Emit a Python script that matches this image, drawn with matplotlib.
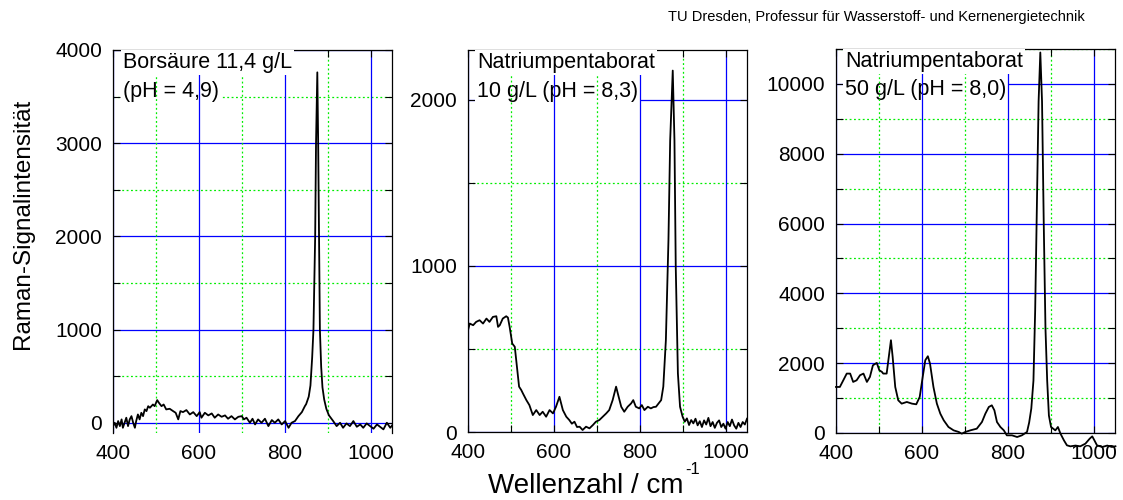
import matplotlib
matplotlib.use("Agg")
import matplotlib.pyplot as plt
from matplotlib.ticker import MultipleLocator

plt.rcParams['font.family'] = ['Liberation Sans', 'DejaVu Sans']

# ---------------- data ----------------
# Panel 1: Borsäure 11,4 g/L
wn1 = [400, 404, 408, 412, 416, 420, 423, 427, 431, 435, 439, 443, 447, 451, 454, 458,
       462, 466, 470, 474, 478, 482, 486, 493, 497, 503, 507, 513, 518, 524, 532, 540,
       546, 552, 557, 563, 571, 579, 587, 595, 602, 606, 614, 622, 630, 637, 645, 653,
       661, 668, 676, 684, 692, 700, 705, 711, 719, 725, 731, 738, 746, 754, 762, 770,
       777, 785, 793, 801, 809, 816, 824, 832, 840, 847, 850, 856, 860, 864, 867, 871,
       873, 876, 878, 880, 882, 885, 888, 892, 897, 903, 913, 921, 929, 936, 944, 952,
       960, 968, 976, 983, 991, 999, 1007, 1015, 1022, 1030, 1038, 1046, 1050]
int1 = [-36, 0, -54, 18, -36, 36, -54, 0, 54, -36, 36, 71, 0, -54, 18, 89,
        36, 107, 71, 143, 125, 178, 161, 196, 178, 243, 214, 178, 196, 143, 150, 125,
        107, 36, 125, 114, 136, 89, 114, 71, 114, 54, 107, 79, 100, 54, 89, 64,
        79, 43, 71, 36, 64, 71, 36, 54, 0, 43, -18, 36, 0, 43, -36, 29,
        0, 36, -18, 18, -54, 0, 18, 71, 114, 178, 200, 280, 400, 700, 1000, 2000,
        3000, 3760, 3000, 2000, 1000, 600, 380, 250, 150, 80, 18, -36, 0, -54, -7, -36,
        18, -43, -18, -54, -7, -36, -64, -18, -43, -71, 0, -54, -30]

# Panel 2: Natriumpentaborat 10 g/L
wn2 = [400, 404, 412, 419, 427, 435, 443, 450, 458, 466, 470, 474, 481, 489, 493, 497,
       503, 509, 514, 519, 524, 528, 536, 543, 551, 559, 567, 574, 582, 590, 598, 605,
       613, 621, 629, 636, 642, 648, 654, 660, 667, 675, 683, 691, 698, 706, 714, 722,
       729, 737, 745, 751, 757, 764, 772, 780, 785, 791, 799, 805, 811, 819, 826, 832,
       838, 850, 855, 861, 867, 871, 877, 881, 884, 889, 894, 900, 905, 910, 915, 920,
       925, 930, 935, 940, 945, 950, 955, 960, 965, 970, 975, 980, 985, 990, 995, 1000,
       1005, 1010, 1015, 1020, 1025, 1030, 1035, 1040, 1045, 1050]
int2 = [613, 653, 643, 663, 673, 653, 683, 663, 693, 697, 633, 643, 683, 697, 689, 633,
        533, 513, 393, 273, 253, 232, 192, 162, 102, 132, 102, 122, 92, 132, 112, 152,
        212, 132, 92, 72, 50, 62, 30, 32, 12, 32, 22, 42, 62, 72, 92, 112,
        132, 192, 273, 212, 152, 122, 152, 172, 192, 152, 142, 162, 132, 152, 142, 150,
        152, 192, 273, 553, 1154, 1755, 2176, 1755, 994, 353, 152, 92, 62, 82, 42, 72,
        52, 80, 40, 65, 30, 70, 45, 85, 35, 60, 25, 55, 70, 30, 50, 20,
        60, 35, 75, 40, 20, 55, 30, 60, 45, 80]

# Panel 3: Natriumpentaborat 50 g/L
wn3 = [400, 409, 417, 425, 433, 440, 448, 456, 464, 472, 479, 486, 495, 501, 507, 510,
       518, 522, 528, 532, 538, 545, 553, 565, 577, 587, 595, 602, 608, 614, 619, 627,
       635, 643, 651, 662, 674, 686, 693, 701, 713, 728, 740, 748, 756, 763, 769, 775,
       783, 791, 798, 810, 822, 833, 845, 850, 855, 860, 864, 868, 872, 876, 880, 884,
       888, 892, 896, 901, 911, 917, 923, 931, 938, 946, 958, 969, 981, 991, 997, 1002,
       1008, 1020, 1032, 1043, 1051]
int3 = [1319, 1319, 1510, 1702, 1702, 1463, 1510, 1655, 1702, 1463, 1606, 1940, 2008, 1797, 1750, 1702,
        1702, 2085, 2658, 2180, 1319, 937, 841, 889, 841, 822, 1032, 1606, 2085, 2199, 1989, 1319,
        841, 554, 363, 172, 76, 29, -19, 29, 76, 124, 315, 554, 745, 793, 650, 315,
        172, 76, -67, -67, -115, -67, 29, 300, 700, 1500, 3500, 6500, 9500, 10900, 9500, 6000,
        3000, 1500, 500, 172, 76, 172, -19, -210, -353, -382, -360, -382, -306, -163, -96, -210,
        -353, -401, -360, -401, -380]

titles = [["Borsäure 11,4 g/L", "(pH = 4,9)"],
          ["Natriumpentaborat", "10 g/L (pH = 8,3)"],
          ["Natriumpentaborat", "50 g/L (pH = 8,0)"]]
ylims = [(-110, 4000), (0, 2300), (0, 11000)]
ymajor = [1000, 1000, 2000]
yminor = [500, 500, 1000]
xticks = [400, 600, 800, 1000]

# ---------------- figure ----------------
W, H = 1123, 500
fig = plt.figure(figsize=(W / 100, H / 100), dpi=100)

# axes boxes in pixels: left, top, right, bottom
boxes = [(113, 50, 392, 433), (468, 50, 747, 432), (836, 49, 1115, 433)]
text_left = [123, 477, 845]
base1 = [68, 68, 67]
base2 = [97, 97, 95]

data = [(wn1, int1), (wn2, int2), (wn3, int3)]
for i in range(3):
    l, t, r, b = boxes[i]
    ax = fig.add_axes([l / W, 1 - b / H, (r - l) / W, (b - t) / H])
    x, y = data[i]
    ax.plot(x, y, color='black', lw=1.3, zorder=4, clip_on=(i != 2))
    ax.set_xlim(400, 1050)
    ax.set_ylim(*ylims[i])
    ax.set_xticks(xticks)
    ax.xaxis.set_minor_locator(MultipleLocator(100))
    ax.yaxis.set_major_locator(MultipleLocator(ymajor[i]))
    ax.yaxis.set_minor_locator(MultipleLocator(yminor[i]))
    ax.grid(which='major', color='#0000ff', lw=0.9, ls='-')
    ax.grid(which='minor', color='#00ee00', lw=0.9, ls=(0, (1.5, 2)))
    ax.tick_params(which='both', direction='in', length=5, width=0.8,
                   top=True, right=True, labelsize=15, pad=8, color='black')
    ax.yaxis.set_zorder(1.2)
    ax.xaxis.set_zorder(3.5)
    for sp in ax.spines.values():
        sp.set_zorder(3.8)
        sp.set_linewidth(0.9)
    if i == 0:
        ax.spines['bottom'].set_visible(False)
        ax.tick_params(which='both', bottom=False)
    # title lines with white boxes
    ax.text(text_left[i] / W, 1 - base1[i] / H, titles[i][0], transform=fig.transFigure,
            fontsize=15.5, va='baseline', ha='left', zorder=5, clip_on=False,
            bbox=dict(facecolor='white', edgecolor='none', pad=1.5))
    ax.text(text_left[i] / W, 1 - base2[i] / H, titles[i][1], transform=fig.transFigure,
            fontsize=15.5, va='baseline', ha='left', zorder=2, clip_on=False,
            bbox=dict(facecolor='white', edgecolor='none', pad=1.5))

fig.text(23 / W, 1 - 224 / H, "Raman-Signalintensität", rotation=90,
         ha='center', va='center', fontsize=17.5)
fig.text(684 / W, 1 - 493 / H, "Wellenzahl / cm", ha='right', va='baseline',
         fontsize=20)
fig.text(685 / W, 1 - 474 / H, "-1", ha='left', va='baseline', fontsize=12)
fig.text(1085 / W, 1 - 21 / H, "TU Dresden, Professur für Wasserstoff- und Kernenergietechnik",
         ha='right', va='baseline', fontsize=10.5)

fig.savefig("out.png", dpi=100)
